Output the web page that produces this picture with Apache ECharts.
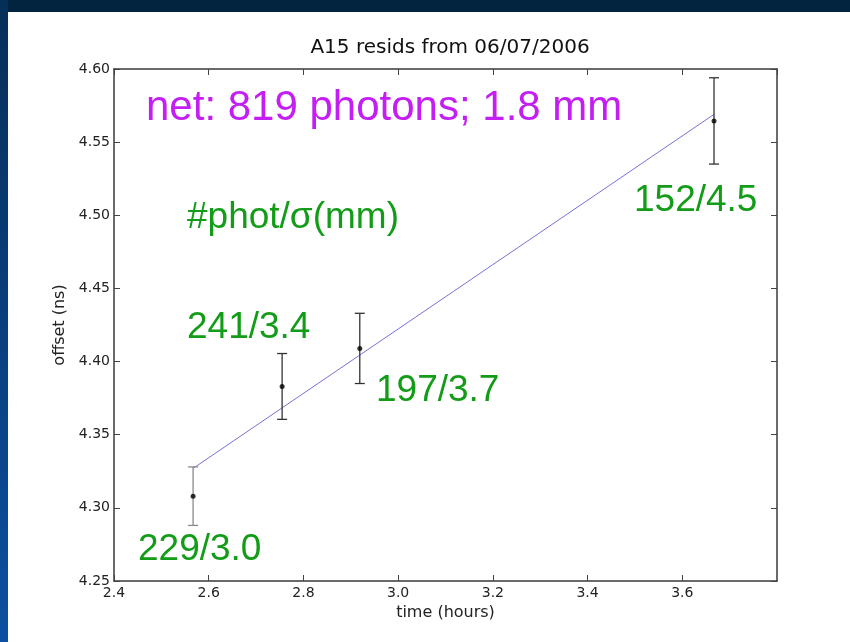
<!DOCTYPE html>
<html>
<head>
<meta charset="utf-8">
<title>A15 resids</title>
<script src="https://cdn.jsdelivr.net/npm/echarts@6/dist/echarts.min.js"></script>
<style>
  html, body { margin: 0; padding: 0; background: #fff; }
  #chart { width: 850px; height: 642px; }
</style>
</head>
<body>
<div id="chart"></div>
<script>
// values
var timeHours = [2.567, 2.755, 2.919, 3.667];
var offsetNs = [4.308, 4.383, 4.409, 4.5645];
var offsetErr = [0.020, 0.0225, 0.024, 0.0295];
var barColors = ['#8a8a8a', '#333333', '#333333', '#333333'];
// straight-line fit
var fitX = [2.567, 3.667];
var fitY = [4.327, 4.569];
// labels next to the points (#phot / sigma in mm)
var pointNotes = ['229/3.0', '241/3.4', '197/3.7', '152/4.5'];

var chart = echarts.init(document.getElementById('chart'));

var tickFont = { fontFamily: 'DejaVu Sans', fontSize: 14, color: '#222' };
var axisLineStyle = { color: '#3a3a3a', width: 1.5 };
var green = '#129c17';

function noteText(str, x, y) {
  return {
    type: 'text', x: x, y: y,
    style: { text: str, fill: green, font: '37px "Liberation Sans", Arial', verticalAlign: 'middle' }
  };
}

chart.setOption({
  backgroundColor: '#fff',
  animation: false,
  title: {
    text: 'A15 resids from 06/07/2006',
    left: 445, top: 33, textAlign: 'center',
    textStyle: { fontFamily: 'DejaVu Sans', fontSize: 20, fontWeight: 'normal', color: '#111' }
  },
  grid: { left: 114, top: 69, right: 73, bottom: 61 },
  xAxis: [
    {
      type: 'value', min: 2.4, max: 3.8, interval: 0.2, position: 'bottom',
      name: 'time (hours)', nameLocation: 'middle', nameGap: 19,
      nameTextStyle: { fontFamily: 'DejaVu Sans', fontSize: 16, color: '#222' },
      axisLine: { lineStyle: axisLineStyle },
      axisTick: { inside: true, length: 6, lineStyle: { color: '#444' } },
      axisLabel: Object.assign({ margin: 5, showMinLabel: true, showMaxLabel: false,
        formatter: function (v) { return v.toFixed(1); } }, tickFont),
      splitLine: { show: false }
    },
    {
      type: 'value', min: 2.4, max: 3.8, interval: 0.2, position: 'top',
      axisLine: { lineStyle: axisLineStyle },
      axisTick: { inside: true, length: 6, lineStyle: { color: '#444' } },
      axisLabel: { show: false },
      splitLine: { show: false }
    }
  ],
  yAxis: [
    {
      type: 'value', min: 4.25, max: 4.60, interval: 0.05, position: 'left',
      name: 'offset (ns)', nameLocation: 'middle', nameGap: 42,
      nameTextStyle: { fontFamily: 'DejaVu Sans', fontSize: 16, color: '#222' },
      axisLine: { show: true, lineStyle: axisLineStyle },
      axisTick: { show: true, inside: true, length: 6, lineStyle: { color: '#444' } },
      axisLabel: Object.assign({ margin: 4, showMinLabel: true, showMaxLabel: true,
        formatter: function (v) { return v.toFixed(2); } }, tickFont),
      splitLine: { show: false }
    },
    {
      type: 'value', min: 4.25, max: 4.60, interval: 0.05, position: 'right',
      axisLine: { show: true, lineStyle: axisLineStyle },
      axisTick: { show: true, inside: true, length: 6, lineStyle: { color: '#444' } },
      axisLabel: { show: false },
      splitLine: { show: false }
    }
  ],
  series: [
    {
      name: 'fit',
      type: 'line',
      data: fitX.map(function (x, i) { return [x, fitY[i]]; }),
      showSymbol: false,
      lineStyle: { color: '#7672d8', width: 1 },
      z: 2
    },
    {
      name: 'errors',
      type: 'custom',
      data: timeHours.map(function (t, i) { return [t, offsetNs[i], offsetErr[i]]; }),
      renderItem: function (params, api) {
        var x = api.value(0), y = api.value(1), e = api.value(2);
        var top = api.coord([x, y + e]);
        var bot = api.coord([x, y - e]);
        var w = 5;
        var st = { stroke: barColors[params.dataIndex], lineWidth: 1.3 };
        return {
          type: 'group',
          children: [
            { type: 'line', shape: { x1: top[0], y1: top[1], x2: bot[0], y2: bot[1] }, style: st },
            { type: 'line', shape: { x1: top[0] - w, y1: top[1], x2: top[0] + w, y2: top[1] }, style: st },
            { type: 'line', shape: { x1: bot[0] - w, y1: bot[1], x2: bot[0] + w, y2: bot[1] }, style: st }
          ]
        };
      },
      z: 3
    },
    {
      name: 'points',
      type: 'scatter',
      data: timeHours.map(function (t, i) { return [t, offsetNs[i]]; }),
      symbol: 'circle',
      symbolSize: 5,
      itemStyle: { color: '#000' },
      z: 4
    }
  ],
  graphic: [
    // slide frame around the plot
    { type: 'rect', shape: { x: 0, y: 0, width: 850, height: 12 }, style: { fill: '#02243f' } },
    {
      type: 'rect', shape: { x: 0, y: 0, width: 8, height: 642 },
      style: {
        fill: new echarts.graphic.LinearGradient(0, 0, 0, 1, [
          { offset: 0, color: '#062f58' },
          { offset: 1, color: '#0d4fa0' }
        ])
      }
    },
    {
      type: 'text', x: 146, y: 108,
      style: { text: 'net: 819 photons; 1.8 mm', fill: '#c41ef4',
        font: '42px "Liberation Sans", Arial', verticalAlign: 'middle' }
    },
    noteText('#phot/\u03c3(mm)', 187, 218),
    noteText(pointNotes[0], 138, 550),
    noteText(pointNotes[1], 187, 328),
    noteText(pointNotes[2], 376, 391),
    noteText(pointNotes[3], 634, 201)
  ]
});
</script>
</body>
</html>
